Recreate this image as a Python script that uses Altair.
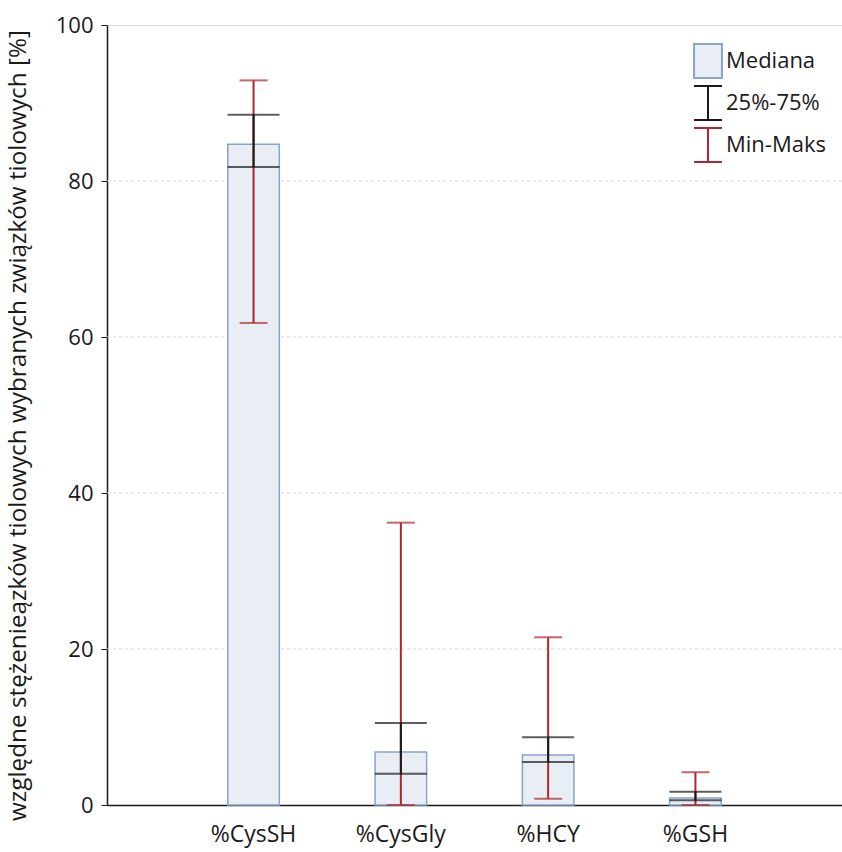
import altair as alt
import pandas as pd

categories = ["%CysSH", "%CysGly", "%HCY", "%GSH"]
median = [84.7, 6.8, 6.4, 0.9]
q1 = [81.8, 4.0, 5.5, 0.6]
q3 = [88.5, 10.5, 8.7, 1.7]
vmin = [61.8, 0.0, 0.8, 0.0]
vmax = [92.9, 36.2, 21.5, 4.2]

y_ticks = [0, 20, 40, 60, 80, 100]
grid_values = [20, 40, 60, 80]

legend_items = ["Mediana", "25%-75%", "Min-Maks"]

FONT = "Open Sans"
RED = "#b0262c"
BLACK = "#1a1a1a"
BAR_STROKE = "#86a4cc"
BAR_FILL = "#e9eef5"

df = pd.DataFrame({"cat": categories, "median": median, "q1": q1, "q3": q3,
                   "vmin": vmin, "vmax": vmax})
grid_df = pd.DataFrame({"g": grid_values})
leg_df = pd.DataFrame({"item": legend_items, "yy": [-50] * 3})

xscale = alt.Scale(domain=categories, paddingInner=0.65, paddingOuter=0.82)
xenc = alt.X("cat:N", sort=categories, scale=xscale, title=None,
             axis=alt.Axis(labelAngle=0, labelFontSize=23, labelFont=FONT,
                           labelColor=BLACK, ticks=False, labelPadding=18,
                           domainColor=BLACK, domainWidth=1.5))
yscale = alt.Scale(domain=[0, 100], nice=False, zero=True)
yaxis = alt.Axis(values=y_ticks, grid=False, labelFontSize=22, labelFont=FONT,
                 labelColor=BLACK, tickColor=BLACK, tickSize=6, labelPadding=8,
                 domainColor=BLACK, domainWidth=1.5,
                 title="względne stężenieązków tiolowych wybranych związków tiolowych [%]",
                 titleFont=FONT, titleFontSize=24.3, titleFontWeight="normal",
                 titleColor=BLACK, titleAngle=270, titleX=-89, titleY=400,
                 titleAlign="center", titleBaseline="middle", titleLimit=900)

base = alt.Chart(df)

grid = alt.Chart(grid_df).mark_rule(color="#d4d4d4", strokeDash=[3, 3], strokeWidth=1).encode(
    y=alt.Y("g:Q", scale=yscale, axis=yaxis)
)

bars = base.mark_bar(fill=BAR_FILL, stroke=BAR_STROKE, strokeWidth=1.5).encode(
    x=xenc, y=alt.Y("median:Q", scale=yscale)
)

red_rule = base.mark_rule(color=RED, strokeWidth=2).encode(
    x=alt.X("cat:N", sort=categories, scale=xscale),
    y=alt.Y("vmin:Q", scale=yscale), y2="vmax:Q")
red_lo = base.mark_tick(color=RED, thickness=2, size=28).encode(
    x=alt.X("cat:N", sort=categories, scale=xscale), y=alt.Y("vmin:Q", scale=yscale))
red_hi = base.mark_tick(color=RED, thickness=2, size=28).encode(
    x=alt.X("cat:N", sort=categories, scale=xscale), y=alt.Y("vmax:Q", scale=yscale))

blk_rule = base.mark_rule(color=BLACK, strokeWidth=2).encode(
    x=alt.X("cat:N", sort=categories, scale=xscale),
    y=alt.Y("q1:Q", scale=yscale), y2="q3:Q")
blk_lo = base.mark_tick(color=BLACK, thickness=2, size=52).encode(
    x=alt.X("cat:N", sort=categories, scale=xscale), y=alt.Y("q1:Q", scale=yscale))
blk_hi = base.mark_tick(color=BLACK, thickness=2, size=52).encode(
    x=alt.X("cat:N", sort=categories, scale=xscale), y=alt.Y("q3:Q", scale=yscale))

paths = [
    "M-0.82,-1H0.82V1H-0.82Z",
    "M-0.82,-1H0.82M0,-1V1M-0.82,1H0.82",
    "M-0.82,-1H0.82M0,-1V1M-0.82,1H0.82",
]
leg = alt.Legend(title=None, orient="none", legendX=583, legendY=18,
                 symbolSize=1156, symbolStrokeWidth=2, labelFontSize=22,
                 labelFont=FONT, labelColor=BLACK, labelOffset=0, rowPadding=0,
                 padding=0, symbolOpacity=1)
legend_layer = alt.Chart(leg_df).mark_point(clip=True, strokeWidth=2, size=1156, opacity=1).encode(
    x=alt.value(0),
    y=alt.Y("yy:Q", scale=yscale),
    shape=alt.Shape("item:N", sort=legend_items,
                    scale=alt.Scale(domain=legend_items, range=paths), legend=leg),
    stroke=alt.Stroke("item:N", sort=legend_items,
                      scale=alt.Scale(domain=legend_items, range=[BAR_STROKE, BLACK, RED]), legend=leg),
    fill=alt.Fill("item:N", sort=legend_items,
                  scale=alt.Scale(domain=legend_items, range=[BAR_FILL, "transparent", "transparent"]), legend=leg),
)

chart = alt.layer(grid, bars, red_rule, red_lo, red_hi, blk_rule, blk_lo, blk_hi,
                  legend_layer).properties(
    width=735, height=780,
    autosize=alt.AutoSizeParams(type="none"),
    padding={"left": 107, "top": 25, "right": 0, "bottom": 47},
).configure_view(stroke=None).configure(background="white")

chart.save("out.html", embed_options={"renderer": "svg", "actions": False})
